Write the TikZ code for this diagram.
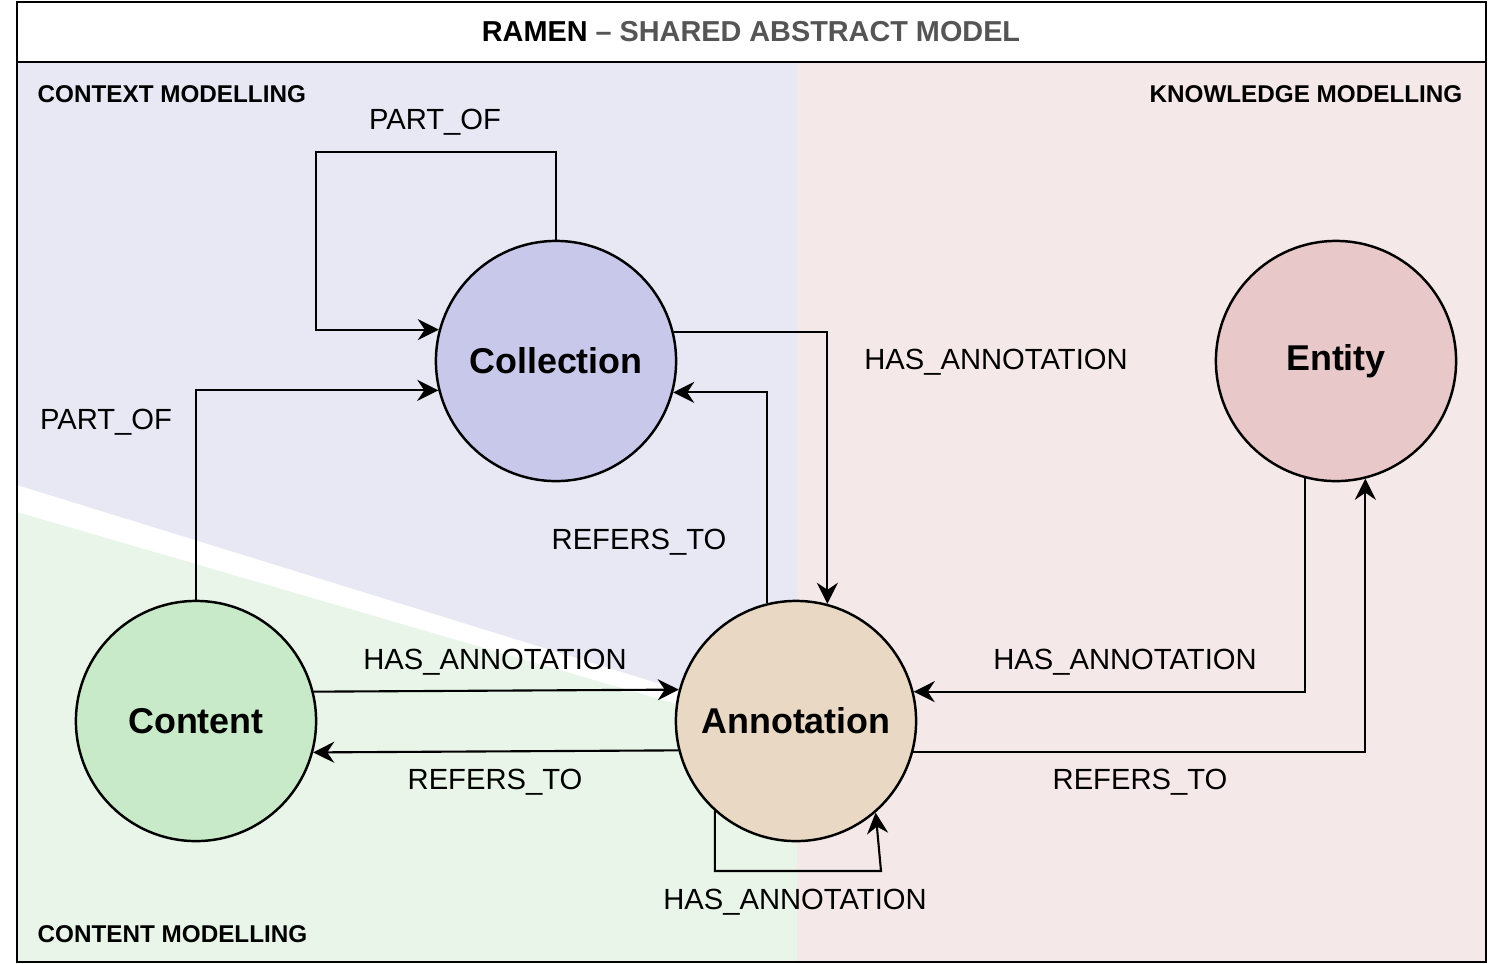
\documentclass[tikz,border=0pt]{standalone}
\usepackage{fontspec}
\setmainfont{Liberation Sans}
\usetikzlibrary{arrows.meta,calc,positioning}
\definecolor{ctxbg}{HTML}{E8E8F5}
\definecolor{cntbg}{HTML}{E8F5E8}
\definecolor{knwbg}{HTML}{F5E8E8}
\definecolor{colfill}{HTML}{C8C8EA}
\definecolor{cntfill}{HTML}{C8EAC8}
\definecolor{annfill}{HTML}{E8D8C4}
\definecolor{entfill}{HTML}{E8C8C8}
\definecolor{titlegray}{HTML}{555555}

\begin{document}
\begin{tikzpicture}[x=0.01cm,y=-0.01cm,
    entity/.style={circle, draw, line width=0.7pt, minimum size=6.8cm*0.353, inner sep=0pt, font=\fontsize{10.2}{12}\selectfont\bfseries},
    rel/.style={line width=0.6pt, -{Stealth[length=6pt,width=6pt,inset=2pt]}},
    rlabel/.style={font=\fontsize{8.3}{10}\selectfont, inner sep=0pt},
    area/.style={font=\fontsize{6.9}{8}\selectfont\bfseries, inner sep=0pt}]
    \useasboundingbox (0,0) rectangle (1488,963);

    % backgrounds
    \fill[knwbg] (797,62) rectangle (1486,962);
    \fill[ctxbg] (17,62) -- (797,62) -- (797,690) -- (680,690) -- (17,485) -- cycle;
    \fill[cntbg] (17,512) -- (680,705) -- (797,705) -- (797,962) -- (17,962) -- cycle;
    \draw[line width=0.7pt] (17,2) rectangle (1486,962);
    \draw[line width=0.7pt, fill=white] (17,2) rectangle (1486,62);
    \node[font=\fontsize{8.2}{10}\selectfont\bfseries] (title) at (751,32) {RAMEN \textcolor{titlegray}{-- SHARED ABSTRACT MODEL}};

    \node[area, anchor=west] (ctx) at (37,94) {CONTEXT MODELLING};
    \node[area, anchor=east] (knw) at (1463,94) {KNOWLEDGE MODELLING};
    \node[area, anchor=west] (cnt) at (37,934) {CONTENT MODELLING};

    % entities
    \node[entity, fill=colfill] (col) at (556,361) {Collection};
    \node[entity, fill=cntfill] (cont) at (196,721) {Content};
    \node[entity, fill=annfill] (ann) at (796,721) {Annotation};
    \node[entity, fill=entfill] (ent) at (1336,361) {Entity};

    % relations
    \draw[rel] (col.north) |- (316,152) |- (col.165.5);
    \draw[rel] (cont.north) |- (col.194.5);
    \draw[rel] (col.14.5) -| (ann.75.5);
    \draw[rel] (ann.104.5) |- (col.345.5);
    \draw[rel] (cont.14.5) -- (ann.165.5);
    \draw[rel] (ann.194.5) -- (cont.345.5);
    \draw[rel] (ent.255.5) |- (ann.14.5);
    \draw[rel] (ann.345.5) -| (ent.284.5);
    \draw[rel] (ann.228.8) |- (881,871) -- (ann.311.2);

    % labels
    \node[rlabel] (l1) at (435,122) {PART\_OF};
    \node[rlabel] (l2) at (106,422) {PART\_OF};
    \node[rlabel] (l3) at (996,362) {HAS\_ANNOTATION};
    \node[rlabel] (l4) at (639,542) {REFERS\_TO};
    \node[rlabel] (l5) at (495,662) {HAS\_ANNOTATION};
    \node[rlabel] (l6) at (495,782) {REFERS\_TO};
    \node[rlabel] (l7) at (1125,662) {HAS\_ANNOTATION};
    \node[rlabel] (l8) at (1140,782) {REFERS\_TO};
    \node[rlabel] (l9) at (795,902) {HAS\_ANNOTATION};
\end{tikzpicture}
\end{document}
